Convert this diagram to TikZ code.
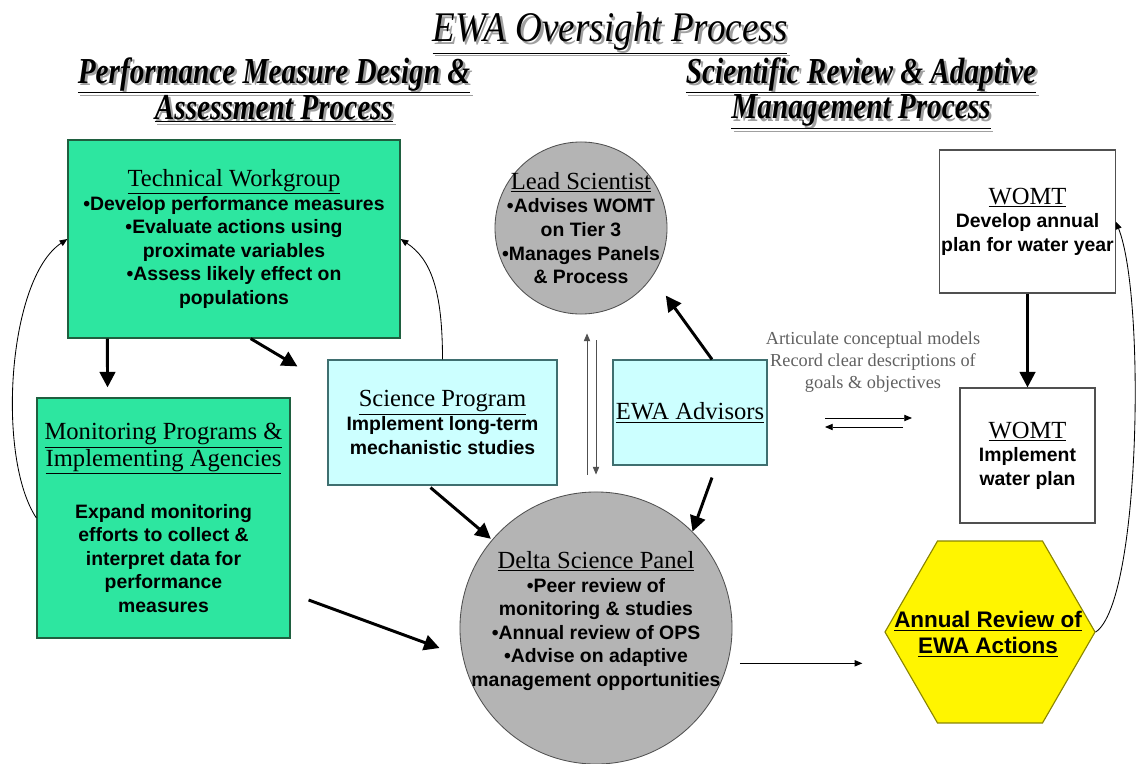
\documentclass[tikz,border=0pt]{standalone}
\usepackage{fontspec}
\setmainfont{Liberation Serif}
\setsansfont{Liberation Sans}
\newfontfamily\narrowserif[FakeStretch=0.8]{Liberation Serif}
\newfontfamily\titleserif[FakeStretch=0.88]{Liberation Serif}
\usepackage{tikz}
\usetikzlibrary{arrows.meta, positioning, calc, shapes.geometric}
\definecolor{WorkGreen}{HTML}{2DE6A0}
\definecolor{GreenEdge}{HTML}{1F5F3F}
\definecolor{PaleCyan}{HTML}{CCFFFF}
\definecolor{CyanEdge}{HTML}{3F6F70}
\definecolor{DiscGray}{HTML}{B4B4B4}
\definecolor{DiscEdge}{HTML}{505050}
\definecolor{HexYellow}{HTML}{FFF500}
\definecolor{HexEdge}{HTML}{8A8500}
\definecolor{NoteGray}{HTML}{606060}
\definecolor{HeadShadow}{HTML}{A0A0A0}
\newcommand{\bodyfont}{\sffamily\bfseries\fontsize{13.8}{16.8}\selectfont}
\newcommand{\boxhead}[1]{{\rmfamily\mdseries\fontsize{17.5}{16.8}\selectfont\underline{#1}}}
\newcommand{\titlefont}{\titleserif\itshape\fontsize{30}{34}\selectfont}
\newcommand{\subfont}{\narrowserif\bfseries\itshape\fontsize{26}{23.5}\selectfont}

\begin{document}
\begin{tikzpicture}[x=0.025cm, y=-0.025cm,
    greenbox/.style={draw=GreenEdge, fill=WorkGreen, line width=0.8pt, align=center, inner sep=1pt, font=\bodyfont},
    cyanbox/.style={draw=CyanEdge, fill=PaleCyan, line width=0.8pt, align=center, inner sep=1pt, font=\bodyfont},
    whitebox/.style={draw=DiscEdge, fill=white, line width=0.8pt, align=center, inner sep=1pt, font=\bodyfont},
    disc/.style={circle, draw=DiscEdge, fill=DiscGray, line width=0.6pt, inner sep=0pt},
    disctext/.style={align=center, inner sep=0pt, font=\bodyfont},
    notetext/.style={align=center, inner sep=0pt, text=NoteGray, font=\rmfamily\fontsize{13}{15.8}\selectfont},
    heavyarrow/.style={-{Triangle[length=11pt,width=11pt]}, line width=2.1pt},
    finearrow/.style={-{Triangle[length=5.5pt,width=4.5pt]}, line width=0.6pt}]
    \useasboundingbox (0,0) rectangle (1136,763);

    % Headings, grey shadow first
    \foreach \shade/\off in {HeadShadow/2.5, black/0} {
        \node[font=\titlefont, text=\shade, anchor=base, inner sep=0pt] (title-\shade)
            at (610+\off,42+\off) {\underline{EWA Oversight Process}};
        \node[font=\subfont, text=\shade, anchor=north, align=center, inner sep=0pt] (perf-\shade)
            at (274+\off,57+\off) {\underline{Performance Measure Design \&}\\\underline{Assessment Process}};
        \node[font=\subfont, text=\shade, anchor=north, align=center, inner sep=0pt] (sci-\shade)
            at (861+\off,57+\off) {\underline{Scientific Review \& Adaptive}\\\underline{Management Process}};
    }

    % Boxes
    \node[greenbox, minimum width=8.3cm, minimum height=4.95cm] (twg) at (234,239)
        {\boxhead{Technical Workgroup}\\\textbullet Develop performance measures\\\textbullet Evaluate actions using\\proximate variables\\\textbullet Assess likely effect on\\populations};
    \node[greenbox, minimum width=6.325cm, minimum height=6cm] (mon) at (163.5,518)
        {\boxhead{Monitoring Programs \&}\\\boxhead{Implementing Agencies}\\[20pt]Expand monitoring\\efforts to collect \&\\interpret data for\\performance\\measures};
    \node[cyanbox, minimum width=5.725cm, minimum height=3.125cm] (sp) at (442.5,422.5)
        {\boxhead{Science Program}\\Implement long-term\\mechanistic studies};
    \node[cyanbox, minimum width=3.85cm, minimum height=2.625cm] (ewa) at (690,412.5)
        {\boxhead{EWA Advisors}};
    \node[whitebox, minimum width=4.275cm, minimum height=3.575cm] (womt1) at (1027.5,221.5)
        {\boxhead{WOMT}\\Develop annual\\plan for water year};
    \node[whitebox, minimum width=3.375cm, minimum height=3.375cm] (womt2) at (1027.5,455.5)
        {\boxhead{WOMT}\\Implement\\water plan};

    % Discs and hexagon
    \node[disc, minimum size=4.3cm] (lead) at (581,228) {};
    \node[disctext] (lead-txt) at (lead)
        {\boxhead{Lead Scientist}\\\textbullet Advises WOMT\\on Tier 3\\\textbullet Manages Panels\\\& Process};
    \node[disc, minimum size=6.8cm] (delta) at (596,628) {};
    \node[disctext] (delta-txt) at (596,621)
        {\boxhead{Delta Science Panel}\\\textbullet Peer review of\\monitoring \& studies\\\textbullet Annual review of OPS\\\textbullet Advise on adaptive\\management opportunities};
    \node[regular polygon, regular polygon sides=6, minimum size=5.25cm, draw=HexEdge, fill=HexYellow,
          line width=0.8pt, inner sep=0pt] (annual) at (990,632) {};
    \node[align=center, inner sep=0pt, font=\sffamily\bfseries\fontsize{16}{18.5}\selectfont] (annual-txt)
        at (988,634) {\underline{Annual Review of}\\\underline{EWA Actions}};

    \node[notetext] (note) at (873,362)
        {Articulate conceptual models\\Record clear descriptions of\\goals \& objectives};

    % Heavy arrows
    \draw[heavyarrow, shorten >=0.25cm] ($(twg.south west)!0.12!(twg.south east)$)
        -- ($(mon.north west)!0.28!(mon.north east)$);
    \draw[heavyarrow] ($(twg.south west)!0.55!(twg.south east)$) -- ($(sp.north west)+(-30,7)$);
    \draw[heavyarrow, shorten >=1pt] ($(sp.south)+(-12,2)$) -- (delta);
    \draw[heavyarrow] ($(mon.east)+(18,82)$) -- ($(delta.west)+(-20,20)$);
    \draw[heavyarrow] ($(ewa.north)+(22,0)$) -- ($(lead.-35)+(14,18)$);
    \draw[heavyarrow] ($(ewa.south)+(22,12)$) -- (delta.45);
    \draw[heavyarrow] (womt1.south) -- (womt2.north);

    % Thin arrows
    \draw[finearrow, draw=DiscEdge] ($(delta.north)+(-9,-17)$) -- ($(lead.south)+(6,19)$);
    \draw[finearrow, draw=DiscEdge] ($(lead.south)+(15,26)$) -- ($(delta.north)+(0,-17)$);
    \coordinate (pairL) at (825,418);
    \coordinate (pairR) at (912,418);
    \draw[finearrow] (pairL) -- (pairR);
    \draw[finearrow] ($(pairR)+(-9,9)$) -- ($(pairL)+(0,9)$);
    \draw[finearrow, shorten <=0.3cm, shorten >=0.55cm] (delta.-15) -- (delta.-15 -| annual.west);

    % Feedback curves
    \draw[finearrow] (mon.west) .. controls +(-40,-60) and +(-60,40) .. (twg.west);
    \draw[finearrow] (sp.north) .. controls +(0,-70) and +(30,20) .. (twg.east);
    \draw[finearrow] (annual.east) .. controls +(45,-30) and +(30,75) .. (womt1.east);
\end{tikzpicture}
\end{document}
